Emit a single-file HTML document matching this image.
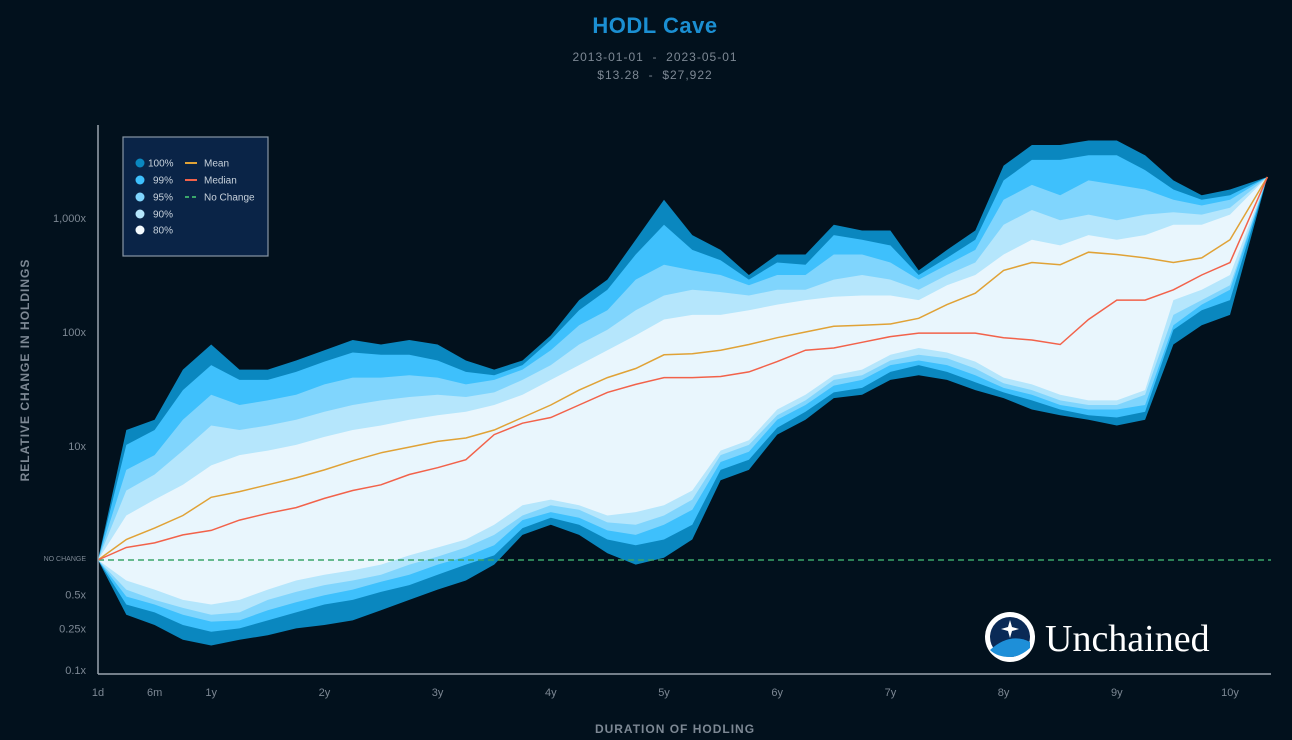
<!DOCTYPE html>
<html><head><meta charset="utf-8"><style>
body{margin:0;background:#02111d;}
svg{display:block;font-family:"Liberation Sans",sans-serif;}
</style></head><body>
<svg id="chart" width="1292" height="740" viewBox="0 0 1292 740">
<rect width="1292" height="740" fill="#02111d"/>
<text x="655" y="33" text-anchor="middle" font-size="22" font-weight="bold" fill="#1b8fd2" letter-spacing="0.5">HODL Cave</text>
<text x="655" y="61" text-anchor="middle" font-size="12" fill="#7d8894" letter-spacing="1">2013-01-01&#160;&#160;-&#160;&#160;2023-05-01</text>
<text x="655" y="79" text-anchor="middle" font-size="12" fill="#7d8894" letter-spacing="1">$13.28&#160;&#160;-&#160;&#160;$27,922</text>
<g id="bands"></g>
<g id="lines"></g>
<line x1="98" y1="125" x2="98" y2="674" stroke="#9aa4ae" stroke-width="1.5"/>
<line x1="98" y1="674" x2="1271" y2="674" stroke="#9aa4ae" stroke-width="1.5"/>
<g id="yticks" font-size="11" fill="#7d8894" text-anchor="end"></g>
<g id="xticks" font-size="11" fill="#7d8894" text-anchor="middle"></g>
<text transform="translate(29,370) rotate(-90)" text-anchor="middle" font-size="12" font-weight="bold" fill="#7d8894" letter-spacing="1">RELATIVE CHANGE IN HOLDINGS</text>
<text x="675" y="733" text-anchor="middle" font-size="12" font-weight="bold" fill="#7d8894" letter-spacing="1">DURATION OF HODLING</text>
<g>
<rect x="123" y="137" width="145" height="119" fill="#0a2447" stroke="#8796a5" stroke-width="1.2"/>
<g font-size="10" fill="#c8d2dc">
<circle cx="140" cy="163" r="4.5" fill="#0a87bf"/><text x="148" y="166.5">100%</text>
<circle cx="140" cy="180" r="4.5" fill="#3ec0fc"/><text x="153" y="183.5">99%</text>
<circle cx="140" cy="197" r="4.5" fill="#80d5fd"/><text x="153" y="200.5">95%</text>
<circle cx="140" cy="214" r="4.5" fill="#b5e6fc"/><text x="153" y="217.5">90%</text>
<circle cx="140" cy="230" r="4.5" fill="#f4fbff"/><text x="153" y="233.5">80%</text>
<line x1="185" y1="163" x2="197" y2="163" stroke="#e0a236" stroke-width="2"/><text x="204" y="166.5">Mean</text>
<line x1="185" y1="180" x2="197" y2="180" stroke="#f2624a" stroke-width="2"/><text x="204" y="183.5">Median</text>
<line x1="185" y1="197" x2="197" y2="197" stroke="#3aa56a" stroke-width="2" stroke-dasharray="4,3"/><text x="204" y="200.5">No Change</text>
</g></g>
<g>
<circle cx="1010" cy="637" r="25" fill="#ffffff"/>
<circle cx="1010" cy="637" r="20" fill="#0a2a56"/>
<path d="M990,650 Q1010,632 1030,642 L1030,648 Q1020,657 1010,657 Q997,657 990,650Z" fill="#1e8fd8"/>
<path d="M1010,620 L1012,627 L1019,629 L1012,631 L1010,638 L1008,631 L1001,629 L1008,627Z" fill="#ffffff"/>
<text x="1045" y="651" font-family="'Liberation Serif',serif" font-size="38" fill="#ffffff">Unchained</text>
</g>
</svg>
<script>
const years = [0,0.25,0.5,0.75,1,1.25,1.5,1.75,2,2.25,2.5,2.75,3,3.25,3.5,3.75,4,4.25,4.5,4.75,5,5.25,5.5,5.75,6,6.25,6.5,6.75,7,7.25,7.5,7.75,8,8.25,8.5,8.75,9,9.25,9.5,9.75,10,10.33];
// values are log10 of relative change in holdings
const top100 = [0,1.14,1.23,1.67,1.89,1.67,1.67,1.75,1.84,1.93,1.89,1.93,1.89,1.75,1.67,1.75,1.97,2.28,2.46,2.81,3.16,2.85,2.72,2.50,2.68,2.68,2.94,2.89,2.89,2.54,2.72,2.89,3.46,3.64,3.64,3.68,3.68,3.55,3.33,3.20,3.25,3.36];
const top99 = [0,1.01,1.14,1.49,1.71,1.58,1.58,1.65,1.74,1.82,1.80,1.80,1.75,1.65,1.62,1.71,1.93,2.19,2.37,2.68,2.94,2.72,2.63,2.46,2.61,2.59,2.85,2.81,2.76,2.50,2.65,2.81,3.33,3.51,3.51,3.55,3.55,3.42,3.25,3.16,3.20,3.36];
const top95 = [0,0.79,0.92,1.23,1.45,1.36,1.40,1.45,1.54,1.60,1.60,1.62,1.60,1.54,1.58,1.67,1.84,2.06,2.19,2.46,2.59,2.54,2.50,2.41,2.50,2.50,2.68,2.68,2.61,2.46,2.59,2.72,3.16,3.29,3.20,3.33,3.29,3.25,3.16,3.11,3.16,3.36];
const top90 = [0,0.61,0.75,0.96,1.18,1.14,1.18,1.23,1.30,1.36,1.40,1.43,1.45,1.43,1.47,1.58,1.71,1.89,2.02,2.19,2.32,2.37,2.35,2.32,2.37,2.37,2.46,2.50,2.46,2.37,2.50,2.61,2.94,3.07,2.98,3.03,2.98,3.03,3.05,3.03,3.09,3.36];
const top80 = [0,0.39,0.53,0.66,0.83,0.92,0.96,1.01,1.08,1.14,1.18,1.23,1.27,1.30,1.36,1.45,1.58,1.71,1.84,1.97,2.11,2.15,2.15,2.19,2.24,2.28,2.31,2.32,2.32,2.28,2.41,2.50,2.68,2.81,2.76,2.85,2.81,2.85,2.94,2.94,3.03,3.36];
const bot80 = [0,-0.18,-0.26,-0.35,-0.39,-0.35,-0.26,-0.18,-0.13,-0.09,-0.04,0.04,0.11,0.18,0.31,0.48,0.53,0.48,0.39,0.42,0.48,0.61,0.96,1.05,1.32,1.45,1.62,1.67,1.80,1.86,1.82,1.74,1.60,1.54,1.45,1.40,1.40,1.49,2.28,2.37,2.50,3.36];
const bot90 = [0,-0.26,-0.35,-0.42,-0.48,-0.46,-0.35,-0.28,-0.22,-0.18,-0.13,-0.04,0.03,0.11,0.22,0.39,0.48,0.44,0.33,0.31,0.39,0.53,0.92,1.01,1.27,1.40,1.58,1.62,1.75,1.80,1.77,1.68,1.55,1.49,1.40,1.36,1.36,1.45,2.15,2.28,2.41,3.36];
const bot95 = [0,-0.32,-0.39,-0.48,-0.54,-0.53,-0.44,-0.37,-0.31,-0.26,-0.19,-0.13,-0.04,0.03,0.13,0.35,0.42,0.37,0.26,0.22,0.31,0.44,0.86,0.95,1.23,1.36,1.53,1.58,1.71,1.75,1.71,1.62,1.51,1.45,1.36,1.32,1.32,1.36,2.06,2.24,2.37,3.36];
const bot99 = [0,-0.39,-0.46,-0.57,-0.63,-0.60,-0.53,-0.46,-0.39,-0.35,-0.28,-0.22,-0.13,-0.04,0.04,0.28,0.37,0.31,0.18,0.13,0.18,0.31,0.79,0.88,1.16,1.30,1.47,1.51,1.65,1.71,1.65,1.56,1.47,1.40,1.32,1.27,1.25,1.30,2.02,2.19,2.28,3.36];
const bot100 = [0,-0.48,-0.57,-0.70,-0.75,-0.70,-0.66,-0.60,-0.57,-0.53,-0.44,-0.35,-0.26,-0.18,-0.04,0.22,0.31,0.22,0.06,-0.04,0.02,0.18,0.70,0.79,1.10,1.23,1.42,1.45,1.58,1.62,1.58,1.49,1.42,1.32,1.27,1.23,1.18,1.23,1.89,2.06,2.15,3.36];
const meanLine = [0,0.18,0.28,0.39,0.55,0.60,0.66,0.72,0.79,0.87,0.94,0.99,1.04,1.07,1.14,1.25,1.36,1.49,1.60,1.68,1.80,1.81,1.84,1.89,1.95,2.00,2.05,2.06,2.07,2.12,2.24,2.34,2.54,2.61,2.59,2.70,2.68,2.65,2.61,2.65,2.81,3.36];
const medianLine = [0,0.11,0.15,0.22,0.26,0.35,0.41,0.46,0.54,0.61,0.66,0.75,0.81,0.88,1.10,1.20,1.25,1.36,1.47,1.54,1.60,1.60,1.61,1.65,1.74,1.84,1.86,1.91,1.96,1.99,1.99,1.99,1.95,1.93,1.89,2.11,2.28,2.28,2.37,2.50,2.61,3.36];
const yTickValues = [3,2,1,-0.301,-0.602,-1];
const yTickLabels = ["1,000x","100x","10x","0.5x","0.25x","0.1x"];
const xTickValues = [0,0.5,1,2,3,4,5,6,7,8,9,10];
const xTickLabels = ["1d","6m","1y","2y","3y","4y","5y","6y","7y","8y","9y","10y"];

const NS = "http://www.w3.org/2000/svg";
function xs(t){ return 98 + 113.2 * t; }
function ys(l){ return 560 - 114 * l; }

const bandsG = document.getElementById('bands');
const bandDefs = [[top100,bot100,'#0a87bf','band-100'],[top99,bot99,'#3ec0fc','band-99'],[top95,bot95,'#80d5fd','band-95'],[top90,bot90,'#b5e6fc','band-90'],[top80,bot80,'#e9f6fd','band-80']];
bandDefs.forEach(function(b){
  let pts = [];
  for (let i=0;i<years.length;i++) pts.push(xs(years[i]).toFixed(1)+','+ys(b[0][i]).toFixed(1));
  for (let i=years.length-1;i>=0;i--) pts.push(xs(years[i]).toFixed(1)+','+ys(b[1][i]).toFixed(1));
  const p = document.createElementNS(NS,'polygon');
  p.setAttribute('points', pts.join(' '));
  p.setAttribute('fill', b[2]);
  
  
  bandsG.appendChild(p);
});

const linesG = document.getElementById('lines');
const nc = document.createElementNS(NS,'line');
nc.setAttribute('x1', xs(0)); nc.setAttribute('x2', 1271);
nc.setAttribute('y1', ys(0)); nc.setAttribute('y2', ys(0));
nc.setAttribute('stroke','#3aa56a'); nc.setAttribute('stroke-width','1.5'); nc.setAttribute('stroke-dasharray','6,4');


linesG.appendChild(nc);
[[meanLine,'#e0a236','mean-line'],[medianLine,'#f2624a','median-line']].forEach(function(l){
  const pl = document.createElementNS(NS,'polyline');
  pl.setAttribute('points', years.map(function(t,i){return xs(t).toFixed(1)+','+ys(l[0][i]).toFixed(1);}).join(' '));
  pl.setAttribute('fill','none'); pl.setAttribute('stroke', l[1]); pl.setAttribute('stroke-width','1.5');
  
  
  linesG.appendChild(pl);
});

const yg = document.getElementById('yticks');
yTickValues.forEach(function(v,i){
  const t = document.createElementNS(NS,'text');
  t.setAttribute('x', 86); t.setAttribute('y', Math.min(ys(v)+4, 674));
  t.textContent = yTickLabels[i];
  
  
  yg.appendChild(t);
});
const ncl = document.createElementNS(NS,'text');
ncl.setAttribute('x', 86); ncl.setAttribute('y', ys(0)+1); ncl.setAttribute('font-size','7');
ncl.textContent = 'NO CHANGE';


yg.appendChild(ncl);

const xg = document.getElementById('xticks');
xTickValues.forEach(function(v,i){
  const t = document.createElementNS(NS,'text');
  t.setAttribute('x', xs(v)); t.setAttribute('y', 696);
  t.textContent = xTickLabels[i];
  
  
  xg.appendChild(t);
});
</script>
</body></html>
